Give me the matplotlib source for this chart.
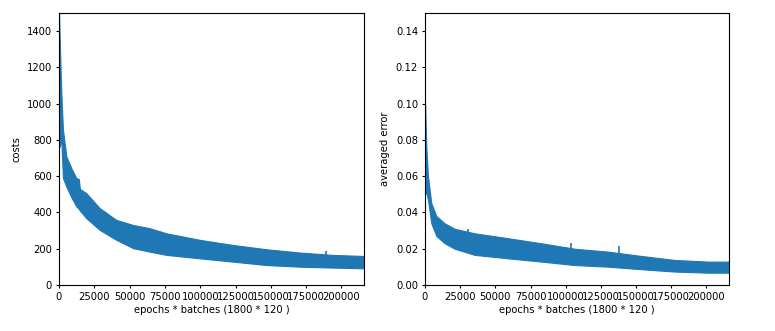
import matplotlib
matplotlib.use("Agg")
import matplotlib.pyplot as plt

# envelope of the noisy training curves
steps = [0, 300, 1650, 2800, 5200, 9000, 12300, 14000, 14800, 19400, 28800, 40600,
         52500, 64300, 76100, 99700, 123000, 147000, 170600, 194000, 216000]
cost_hi = [1500, 1400, 1060, 856, 709, 640, 589, 585, 530, 506, 424, 359,
           331, 313, 285, 249, 221, 197, 179, 166, 160]
cost_lo = [1300, 760, 800, 590, 543, 480, 433, 420, 410, 368, 304, 249,
           203, 184, 166, 147, 129, 110, 101, 96, 92]

err_steps = [0, 950, 2100, 4500, 8100, 14000, 21100, 35300, 59000, 82700,
             106400, 130100, 153800, 177500, 201200, 216000]
err_hi = [0.102, 0.076, 0.060, 0.045, 0.038, 0.034, 0.031, 0.0285, 0.0258, 0.023,
          0.020, 0.0184, 0.016, 0.0138, 0.0129, 0.0129]
err_lo = [0.05, 0.051, 0.047, 0.034, 0.027, 0.023, 0.020, 0.0166, 0.0147, 0.0129,
          0.011, 0.0101, 0.0087, 0.0074, 0.0068, 0.0068]

# a few visible spikes above the band
cost_spike_x = [66000, 189000]
cost_spike_y = [305, 190]
cost_spike_base = [250, 130]
err_spike_x = [30500, 103500, 137500]
err_spike_y = [0.0310, 0.0230, 0.0215]
err_spike_base = [0.024, 0.016, 0.014]

total = 1800 * 120
blue = "#1f77b4"

plt.rcParams["font.size"] = 7.2

fig = plt.figure(figsize=(7.75, 3.31), dpi=100)
ax1 = fig.add_axes([59/775, 46/331, 305/775, 272/331])
ax2 = fig.add_axes([425/775, 46/331, 304/775, 272/331])

ax1.fill_between(steps, cost_lo, cost_hi, color=blue, lw=0.8)
ax1.vlines(cost_spike_x, cost_spike_base, cost_spike_y, color=blue, lw=1.2)
ax1.set_xlim(0, total)
ax1.set_ylim(0, 1500)
ax1.set_ylabel("costs")
ax1.set_xlabel("epochs * batches (1800 * 120 )", labelpad=2)

ax2.fill_between(err_steps, err_lo, err_hi, color=blue, lw=0.8)
ax2.vlines(err_spike_x, err_spike_base, err_spike_y, color=blue, lw=1.2)
ax2.set_xlim(0, total)
ax2.set_ylim(0, 0.15)
ax2.set_ylabel("averaged error")
ax2.set_xlabel("epochs * batches (1800 * 120 )", labelpad=2)

for ax in (ax1, ax2):
    ax.set_xticks([0, 25000, 50000, 75000, 100000, 125000, 150000, 175000, 200000])
    ax.tick_params(length=2.5, pad=2.5)

fig.savefig("out.png", dpi=100)
